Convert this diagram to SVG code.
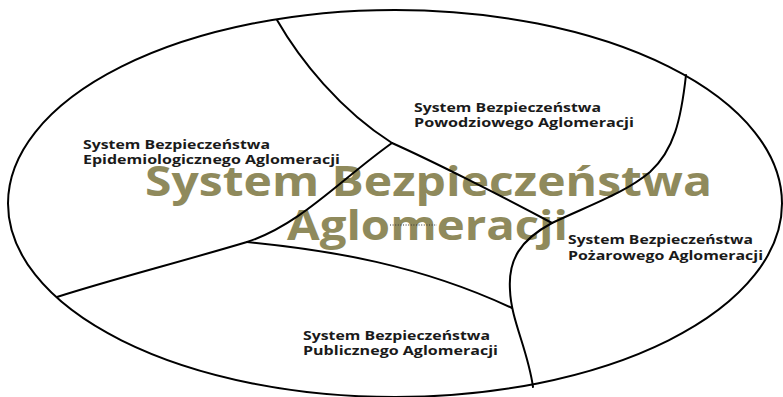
<svg xmlns="http://www.w3.org/2000/svg" width="783" height="397" viewBox="0 0 783 397">
  <style>
    .outline { fill: none; stroke: #000; stroke-width: 2; }
    .divider { fill: none; stroke: #000; stroke-width: 2; stroke-linecap: round; }
    .label { font-family: "Open Sans", "Liberation Sans", sans-serif; font-weight: bold; font-size: 13px; fill: #1a1a1a; }
    .title { font-family: "Open Sans", "Liberation Sans", sans-serif; font-weight: bold; font-size: 42px; fill: #8f8a5c; }
  </style>
  <rect width="783" height="397" fill="#fff"/>

  <!-- outer boundary -->
  <g id="agglomeration">
    <ellipse class="outline" cx="395" cy="203.5" rx="387" ry="193.5"/>
  </g>

  <!-- central title -->
  <g id="title">
    <text class="title" x="145" y="196" textLength="567" lengthAdjust="spacingAndGlyphs">System Bezpieczeństwa</text>
    <text class="title" x="287" y="240" textLength="281" lengthAdjust="spacingAndGlyphs">Aglomeracji</text>
    <line x1="390" y1="225" x2="437" y2="225" stroke="#333" stroke-width="1" stroke-dasharray="1 1.6"/>
  </g>

  <!-- region borders -->
  <g id="connectors">
    <path class="divider" d="M277,20 C300,60 340,110 392,143"/>
    <path class="divider" d="M392,143 C430,160 500,195 552,223"/>
    <path class="divider" d="M686,75 C681,120 674,150 650,172 C625,193 590,205 552,223"/>
    <path class="divider" d="M552,223 C520,240 508,260 510,290 C511,320 528,350 533,387"/>
    <path class="divider" d="M392,143 C340,180 300,225 247,242 C180,262 110,280 57,297"/>
    <path class="divider" d="M247,242 C330,250 420,265 512,308"/>
  </g>

  <g id="epidemic">
    <text class="label" x="83" y="149" textLength="187" lengthAdjust="spacingAndGlyphs">System Bezpieczeństwa</text>
    <text class="label" x="83" y="164" textLength="257" lengthAdjust="spacingAndGlyphs">Epidemiologicznego Aglomeracji</text>
  </g>

  <g id="flood">
    <text class="label" x="414" y="112" textLength="187" lengthAdjust="spacingAndGlyphs">System Bezpieczeństwa</text>
    <text class="label" x="414" y="127" textLength="220" lengthAdjust="spacingAndGlyphs">Powodziowego Aglomeracji</text>
  </g>

  <g id="fire">
    <text class="label" x="568" y="244" textLength="185" lengthAdjust="spacingAndGlyphs">System Bezpieczeństwa</text>
    <text class="label" x="568" y="260" textLength="195" lengthAdjust="spacingAndGlyphs">Pożarowego Aglomeracji</text>
  </g>

  <g id="public">
    <text class="label" x="303" y="340" textLength="187" lengthAdjust="spacingAndGlyphs">System Bezpieczeństwa</text>
    <text class="label" x="303" y="355" textLength="195" lengthAdjust="spacingAndGlyphs">Publicznego Aglomeracji</text>
  </g>
</svg>
